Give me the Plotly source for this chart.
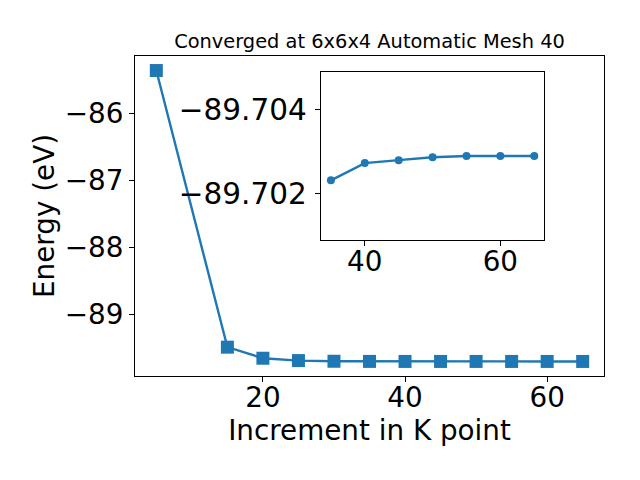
import plotly.graph_objects as go

# Main convergence series
kpoints = [5, 15, 20, 25, 30, 35, 40, 45, 50, 55, 60, 65]
energy = [-85.365, -89.49, -89.655, -89.69, -89.700, -89.7023, -89.7027,
          -89.7028, -89.7029, -89.7029, -89.7029, -89.7029]

# Inset (zoomed) series
inset_k = [35, 40, 45, 50, 55, 60, 65]
inset_energy = [-89.70231, -89.70272, -89.70279, -89.70286, -89.70289,
                -89.70289, -89.70289]

main_xticks = [20, 40, 60]
main_yticks = [-86, -87, -88, -89]
inset_xticks = [40, 60]
inset_yticks = [-89.704, -89.702]

def lab(v, fmt):
    s = fmt.format(abs(v))
    return ("\u2212" + s) if v < 0 else s

BLUE = "#1f77b4"
FONT = "DejaVu Sans"
TICKSZ = 27.8

fig = go.Figure()
fig.add_trace(go.Scatter(
    x=kpoints, y=energy, mode="lines+markers",
    line=dict(color=BLUE, width=2.4),
    marker=dict(symbol="square", size=13, color=BLUE,
                line=dict(color=BLUE, width=0)),
    xaxis="x", yaxis="y", showlegend=False))
fig.add_trace(go.Scatter(
    x=inset_k, y=inset_energy, mode="lines+markers",
    line=dict(color=BLUE, width=2.4),
    marker=dict(symbol="circle", size=8, color=BLUE),
    xaxis="x2", yaxis="y2", showlegend=False))

axis_common = dict(
    showgrid=False, zeroline=False, showline=True, linecolor="black",
    linewidth=1.1, mirror=True, ticks="outside", ticklen=5, tickwidth=1.1,
    tickcolor="black", tickfont=dict(family=FONT, size=TICKSZ, color="black"))

# page body has an 8px offset; compensate so the plot lands where the reference has it
fig.update_layout(
    width=640, height=480,
    margin=dict(l=127, r=44, t=48, b=112),
    paper_bgcolor="white", plot_bgcolor="white",
    font=dict(family=FONT, color="black"),
    title=dict(text="Converged at 6x6x4 Automatic Mesh 40",
               font=dict(family=FONT, size=19.4, color="black"),
               x=(127 + 596) / 2 / 640, xanchor="center",
               y=1 - 33 / 480, yanchor="middle"),
    xaxis=dict(axis_common, range=[2, 68], tickvals=main_xticks,
               ticktext=[lab(v, "{:.0f}") for v in main_xticks],
               ticklabelstandoff=-8,
               title=dict(text="Increment in K point",
                          font=dict(family=FONT, size=27.8, color="black"),
                          standoff=2)),
    yaxis=dict(axis_common, range=[-89.92, -85.148], tickvals=main_yticks,
               ticktext=[lab(v, "{:.0f}") for v in main_yticks],
               title=dict(text="Energy (eV)",
                          font=dict(family=FONT, size=27.8, color="black"),
                          standoff=1)),
    xaxis2=dict(axis_common, domain=[0.396, 0.873], anchor="y2",
                range=[33.5, 66.5], tickvals=inset_xticks,
                ticklabelstandoff=-8,
                ticktext=[lab(v, "{:.0f}") for v in inset_xticks]),
    yaxis2=dict(axis_common, domain=[0.425, 0.949], anchor="x2",
                range=[-89.70089, -89.70488], tickvals=inset_yticks,
                tickfont=dict(family=FONT, size=29.5, color="black"),
                ticklabelstandoff=2,
                ticktext=[lab(v, "{:.3f}") for v in inset_yticks]),
)

fig.write_html("out.html")
